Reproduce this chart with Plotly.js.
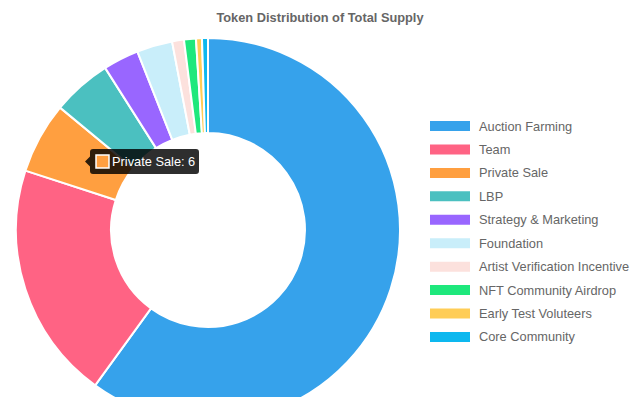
<!DOCTYPE html>
<html>
<head>
<meta charset="utf-8">
<script src="https://cdn.plot.ly/plotly-3.0.1.min.js"></script>
<style>
html, body { margin: 0; padding: 0; overflow: hidden; background: #fff; }
#chart { width: 640px; height: 430px; }
</style>
</head>
<body>
<div id="chart"></div>
<script>
const labels = ["Auction Farming", "Team", "Private Sale", "LBP", "Strategy & Marketing",
  "Foundation", "Artist Verification Incentive", "NFT Community Airdrop", "Early Test Voluteers", "Core Community"];
const values = [60, 20, 6, 5, 3, 3, 1, 1, 0.5, 0.5];
const colors = ["#36A2EB", "#FF6384", "#FF9F40", "#4BC0C0", "#9966FF",
  "#C9EEFA", "#FCE1DD", "#1EE87C", "#FFCD56", "#0DB8EF"];
const tooltipIndex = 2;

const W = 640, H = 430;
const px = (x) => x / W;
const py = (y) => 1 - y / H;

const shapes = [];
const annotations = [];

// legend (Chart.js style)
const legendTop = 126, legendStep = 23.44;
labels.forEach((lab, i) => {
  const yc = legendTop + i * legendStep;
  shapes.push({type: "rect", xref: "paper", yref: "paper",
    x0: px(430), x1: px(470), y0: py(yc + 5), y1: py(yc - 5),
    fillcolor: colors[i], line: {width: 0}});
  annotations.push({xref: "paper", yref: "paper", x: px(477), y: py(yc),
    xanchor: "left", yanchor: "middle", showarrow: false, text: lab,
    font: {family: "Liberation Sans, Arial, sans-serif", size: 12.8, color: "#666"}});
});

// tooltip
const tipY = 161.5;
shapes.push({type: "path", xref: "paper", yref: "paper",
  path: `M ${px(92)} ${py(149)} L ${px(196)} ${py(149)} Q ${px(199)} ${py(149)} ${px(199)} ${py(152)} L ${px(199)} ${py(171)} Q ${px(199)} ${py(174)} ${px(196)} ${py(174)} L ${px(93)} ${py(174)} Q ${px(90)} ${py(174)} ${px(90)} ${py(171)} L ${px(90)} ${py(tipY+5)} L ${px(85)} ${py(tipY)} L ${px(90)} ${py(tipY-5)} L ${px(90)} ${py(152)} Q ${px(90)} ${py(149)} ${px(93)} ${py(149)} Z`,
  fillcolor: "rgba(0,0,0,0.82)", line: {width: 0}});
shapes.push({type: "rect", xref: "paper", yref: "paper",
  x0: px(96), x1: px(109), y0: py(168), y1: py(155),
  fillcolor: colors[tooltipIndex], line: {color: "#fff", width: 1.5}});
annotations.push({xref: "paper", yref: "paper", x: px(110), y: py(tipY),
  xanchor: "left", yanchor: "middle", showarrow: false,
  text: labels[tooltipIndex] + ": " + values[tooltipIndex],
  font: {family: "Liberation Sans, Arial, sans-serif", size: 12.8, color: "#fff"}});

const trace = {
  type: "pie",
  labels: labels,
  values: values,
  marker: {colors: colors, line: {color: "#fff", width: 2}},
  hole: 0.505,
  sort: false,
  direction: "clockwise",
  rotation: 0,
  textinfo: "none",
  hoverinfo: "none",
  domain: {x: [px(16), px(400)], y: [py(422), py(38)]}
};

const layout = {
  width: W, height: H,
  margin: {l: 0, r: 0, t: 0, b: 0},
  paper_bgcolor: "#fff",
  showlegend: false,
  title: {text: "Token Distribution of Total Supply", x: 0.5, xanchor: "center",
    y: py(18), yanchor: "middle",
    font: {family: "Liberation Sans, Arial, sans-serif", size: 12.8, color: "#666", weight: "bold"}},
  shapes: shapes,
  annotations: annotations
};

Plotly.newPlot("chart", [trace], layout, {displayModeBar: false, staticPlot: true});
</script>
</body>
</html>
